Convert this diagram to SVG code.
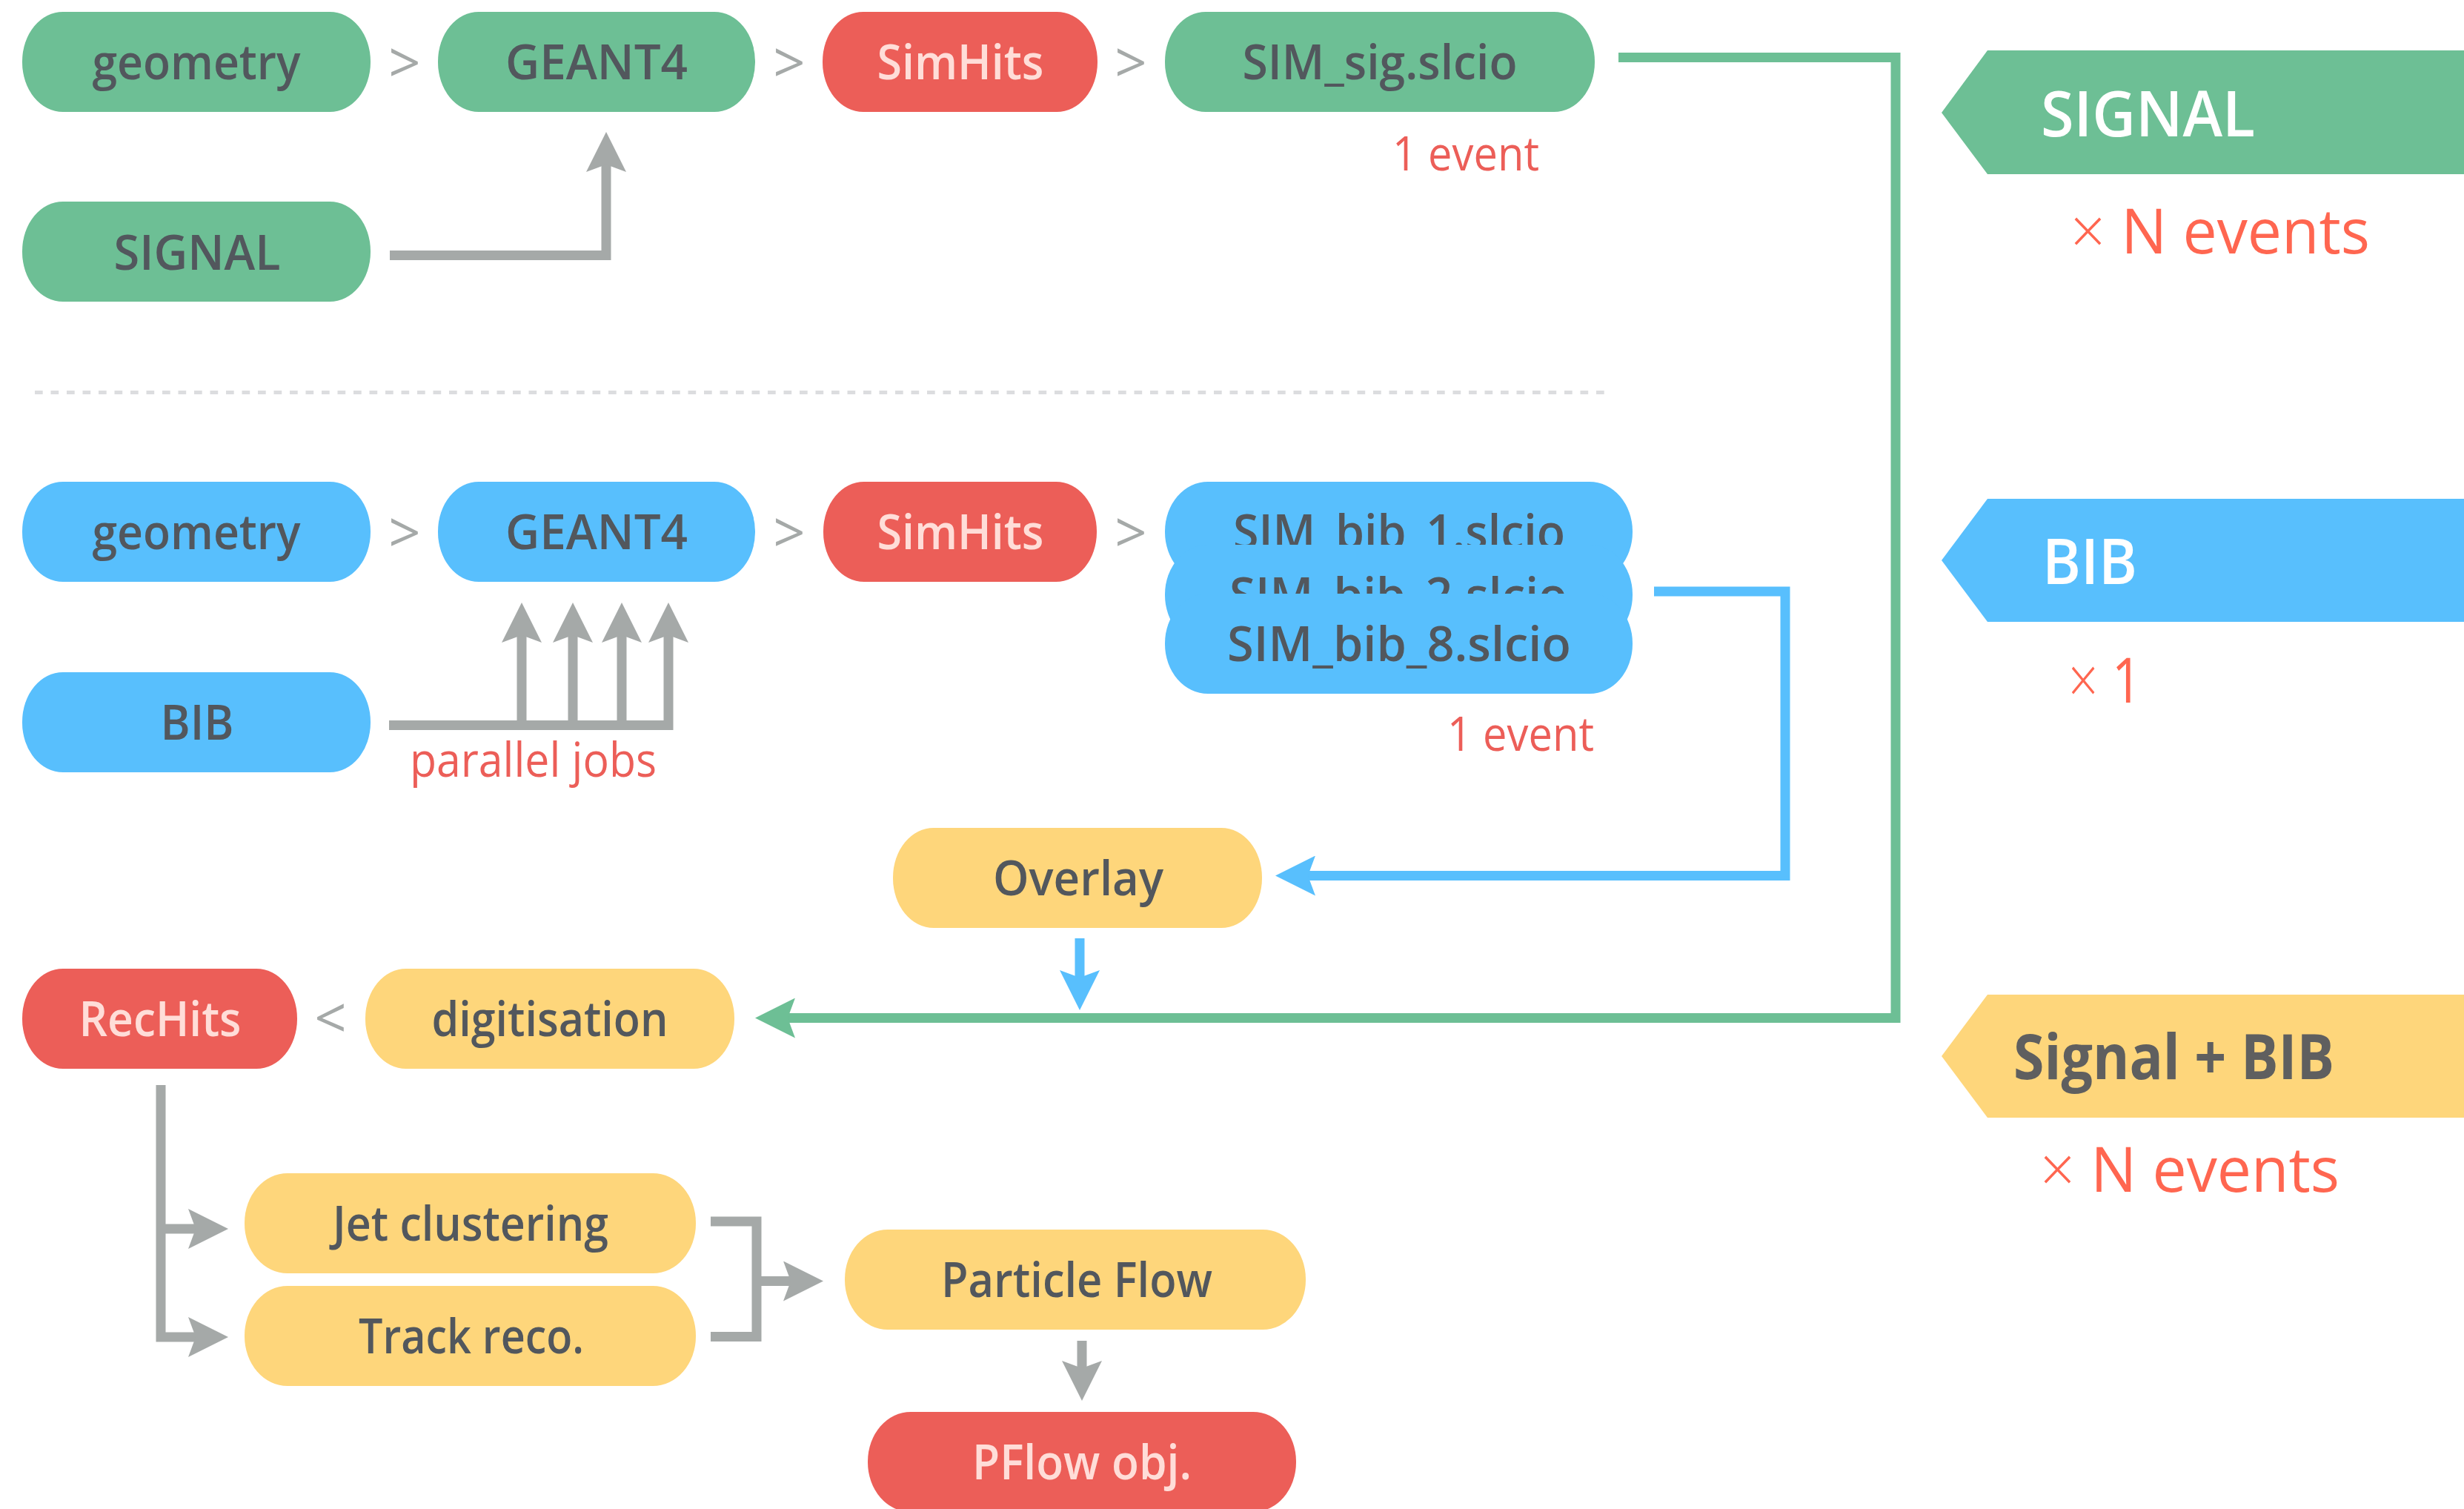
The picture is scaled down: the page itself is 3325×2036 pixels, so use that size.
<svg xmlns="http://www.w3.org/2000/svg" width="3325" height="2036" viewBox="0 0 3325 2036">
<defs>
<style>
.green{fill:#6DBF95}
.blue{fill:#58BFFD}
.red{fill:#EC5E58}
.yellow{fill:#FED67B}
.lbl{font-family:"Open Sans","Noto Sans","DejaVu Sans",sans-serif;font-weight:600;font-size:66px;fill:#52575D;text-anchor:middle}
.lbl-light{fill:#FFDDD8}
.sep{font-family:"Open Sans","Noto Sans",sans-serif;font-weight:400;font-size:76px;fill:#A5A9A8;text-anchor:middle}
.note{font-family:"Open Sans","Noto Sans",sans-serif;font-weight:400;font-size:64px;fill:#EC5E58}
.count{font-family:"Open Sans","Noto Sans",sans-serif;font-weight:400;font-size:85px;fill:#FF6650}
.thin{font-weight:300}
.bannerTxt{font-family:"Open Sans","Noto Sans",sans-serif;font-weight:600;font-size:85px;fill:#FFFFFF}
.bannerDark{font-family:"Open Sans","Noto Sans",sans-serif;font-weight:700;font-size:84px;fill:#5F5F5F}
.gline{fill:none;stroke:#A5A9A8;stroke-width:13;stroke-linejoin:miter;stroke-linecap:butt}
.bline{fill:none;stroke:#58BFFD;stroke-width:13;stroke-linejoin:miter;stroke-linecap:butt}
.grline{fill:none;stroke:#6DBF95;stroke-width:13;stroke-linejoin:miter;stroke-linecap:butt}
</style>
<marker id="ahGray" markerUnits="userSpaceOnUse" viewBox="0 0 54 54" markerWidth="54" markerHeight="54" refX="10" refY="27" orient="auto"><path d="M54,27 L0,0 L10,27 L0,54 Z" fill="#A5A9A8"/></marker>
<marker id="ahBlue" markerUnits="userSpaceOnUse" viewBox="0 0 54 54" markerWidth="54" markerHeight="54" refX="10" refY="27" orient="auto"><path d="M54,27 L0,0 L10,27 L0,54 Z" fill="#58BFFD"/></marker>
<marker id="ahGreen" markerUnits="userSpaceOnUse" viewBox="0 0 54 54" markerWidth="54" markerHeight="54" refX="10" refY="27" orient="auto"><path d="M54,27 L0,0 L10,27 L0,54 Z" fill="#6DBF95"/></marker>
</defs>
<rect width="3325" height="2036" fill="#FFFFFF"/>

<!-- separator -->
<path d="M47,529.5 H2170" stroke="#DCDDDF" stroke-width="5" stroke-dasharray="10.7 10.8" fill="none"/>

<!-- connectors -->
<g id="connectors">
<path class="gline" d="M526,344.5 H818 V222" marker-end="url(#ahGray)"/>
<path class="gline" d="M525,978.5 H902 V857" marker-end="url(#ahGray)"/>
<path class="gline" d="M704,980 V857" marker-end="url(#ahGray)"/>
<path class="gline" d="M773,980 V857" marker-end="url(#ahGray)"/>
<path class="gline" d="M839,980 V857" marker-end="url(#ahGray)"/>
<path class="gline" d="M217,1464 V1804 H264" marker-end="url(#ahGray)"/>
<path class="gline" d="M217,1658 H264" marker-end="url(#ahGray)"/>
<path class="gline" d="M959,1648 H1021 V1803.5 H959"/>
<path class="gline" d="M1021,1728.5 H1067" marker-end="url(#ahGray)"/>
<path class="gline" d="M1460,1809 V1846" marker-end="url(#ahGray)"/>
<path class="bline" d="M2232,798 H2409 V1181.5 H1765" marker-end="url(#ahBlue)"/>
<path class="bline" d="M1457,1266 V1319" stroke-width="12" marker-end="url(#ahBlue)"/>
<path class="grline" d="M2184,77.5 H2558 V1373.5 H1063" marker-end="url(#ahGreen)"/>
</g>

<!-- chevrons -->
<g id="separators">
<text class="sep" x="546" y="112">&gt;</text>
<text class="sep" x="1065" y="112">&gt;</text>
<text class="sep" x="1526" y="112">&gt;</text>
<text class="sep" x="546" y="746">&gt;</text>
<text class="sep" x="1065" y="746">&gt;</text>
<text class="sep" x="1526" y="746">&gt;</text>
<text class="sep" x="446" y="1401">&lt;</text>
</g>

<!-- signal row -->
<g id="sig-geometry"><rect class="green" x="30" y="16" width="470" height="135" rx="55" ry="67"/><text class="lbl" x="265" y="107" textLength="281" lengthAdjust="spacingAndGlyphs">geometry</text></g>
<g id="sig-geant4"><rect class="green" x="591" y="16" width="428" height="135" rx="55" ry="67"/><text class="lbl" x="805" y="107" textLength="246" lengthAdjust="spacingAndGlyphs">GEANT4</text></g>
<g id="sig-simhits"><rect class="red" x="1110" y="16" width="371" height="135" rx="55" ry="67"/><text class="lbl lbl-light" x="1296" y="107" textLength="225" lengthAdjust="spacingAndGlyphs">SimHits</text></g>
<g id="sig-slcio"><rect class="green" x="1572" y="16" width="580" height="135" rx="55" ry="67"/><text class="lbl" x="1862" y="107" textLength="371" lengthAdjust="spacingAndGlyphs">SIM_sig.slcio</text></g>
<g id="sig-source"><rect class="green" x="30" y="272" width="470" height="135" rx="55" ry="67"/><text class="lbl" x="266" y="364" textLength="225" lengthAdjust="spacingAndGlyphs">SIGNAL</text></g>
<text class="note" x="1879" y="230" textLength="198" lengthAdjust="spacingAndGlyphs">1 event</text>

<!-- bib row -->
<g id="bib-geometry"><rect class="blue" x="30" y="650" width="470" height="135" rx="55" ry="67"/><text class="lbl" x="265" y="741" textLength="281" lengthAdjust="spacingAndGlyphs">geometry</text></g>
<g id="bib-geant4"><rect class="blue" x="591" y="650" width="428" height="135" rx="55" ry="67"/><text class="lbl" x="805" y="741" textLength="246" lengthAdjust="spacingAndGlyphs">GEANT4</text></g>
<g id="bib-simhits"><rect class="red" x="1111" y="650" width="369" height="135" rx="55" ry="67"/><text class="lbl lbl-light" x="1296" y="741" textLength="225" lengthAdjust="spacingAndGlyphs">SimHits</text></g>
<g id="bib-source"><rect class="blue" x="30" y="907" width="470" height="135" rx="55" ry="67"/><text class="lbl" x="266" y="998" textLength="99" lengthAdjust="spacingAndGlyphs">BIB</text></g>
<g id="bib-slcio">
<rect class="blue" x="1572" y="650" width="631" height="135" rx="58" ry="67"/><text class="lbl" x="1888" y="741" textLength="448" lengthAdjust="spacingAndGlyphs">SIM_bib_1.slcio</text>
<rect class="blue" x="1572" y="735" width="631" height="135" rx="58" ry="67"/><text class="lbl" x="1887" y="826" textLength="456" lengthAdjust="spacingAndGlyphs">SIM_bib_2.slcio</text>
<rect class="blue" x="1572" y="801" width="631" height="135" rx="58" ry="67"/><text class="lbl" x="1888" y="892" textLength="464" lengthAdjust="spacingAndGlyphs">SIM_bib_8.slcio</text>
</g>
<text class="note" x="553" y="1048" textLength="333" lengthAdjust="spacingAndGlyphs">parallel jobs</text>
<text class="note" x="1953" y="1013" textLength="198" lengthAdjust="spacingAndGlyphs">1 event</text>

<!-- reconstruction -->
<g id="overlay"><rect class="yellow" x="1205" y="1117" width="498" height="135" rx="55" ry="67"/><text class="lbl" x="1455" y="1208" textLength="230" lengthAdjust="spacingAndGlyphs">Overlay</text></g>
<g id="rechits"><rect class="red" x="30" y="1307" width="371" height="135" rx="55" ry="67"/><text class="lbl lbl-light" x="216" y="1398" textLength="219" lengthAdjust="spacingAndGlyphs">RecHits</text></g>
<g id="digitisation"><rect class="yellow" x="493" y="1307" width="498" height="135" rx="55" ry="67"/><text class="lbl" x="742" y="1398" textLength="319" lengthAdjust="spacingAndGlyphs">digitisation</text></g>
<g id="jet"><rect class="yellow" x="330" y="1583" width="609" height="135" rx="58" ry="67"/><text class="lbl" x="635" y="1674" textLength="372" lengthAdjust="spacingAndGlyphs">Jet clustering</text></g>
<g id="track"><rect class="yellow" x="330" y="1735" width="609" height="135" rx="58" ry="67"/><text class="lbl" x="636" y="1826" textLength="304" lengthAdjust="spacingAndGlyphs">Track reco.</text></g>
<g id="pflow"><rect class="yellow" x="1140" y="1659" width="622" height="135" rx="58" ry="67"/><text class="lbl" x="1453" y="1750" textLength="366" lengthAdjust="spacingAndGlyphs">Particle Flow</text></g>
<g id="pflowobj"><rect class="red" x="1171" y="1905" width="578" height="135" rx="58" ry="67"/><text class="lbl lbl-light" x="1460" y="1996" textLength="296" lengthAdjust="spacingAndGlyphs">PFlow obj.</text></g>

<!-- legend banners -->
<g id="legend-signal">
<polygon class="green" points="2620,152 2682,68 3325,68 3325,235 2682,235"/>
<text class="bannerTxt" x="2754" y="184" textLength="289" lengthAdjust="spacingAndGlyphs">SIGNAL</text>
<text class="count" x="2794" y="342" textLength="404" lengthAdjust="spacingAndGlyphs"><tspan class="thin">×</tspan> N events</text>
</g>
<g id="legend-bib">
<polygon class="blue" points="2620,756 2682,673 3325,673 3325,839 2682,839"/>
<text class="bannerTxt" x="2756" y="788" textLength="128" lengthAdjust="spacingAndGlyphs">BIB</text>
<text class="count" x="2791" y="948" textLength="99" lengthAdjust="spacingAndGlyphs"><tspan class="thin">×</tspan> 1</text>
</g>
<g id="legend-both">
<polygon class="yellow" points="2620,1425 2682,1342 3325,1342 3325,1508 2682,1508"/>
<text class="bannerDark" x="2717" y="1456" textLength="433" lengthAdjust="spacingAndGlyphs">Signal + BIB</text>
<text class="count" x="2753" y="1608" textLength="404" lengthAdjust="spacingAndGlyphs"><tspan class="thin">×</tspan> N events</text>
</g>
</svg>
